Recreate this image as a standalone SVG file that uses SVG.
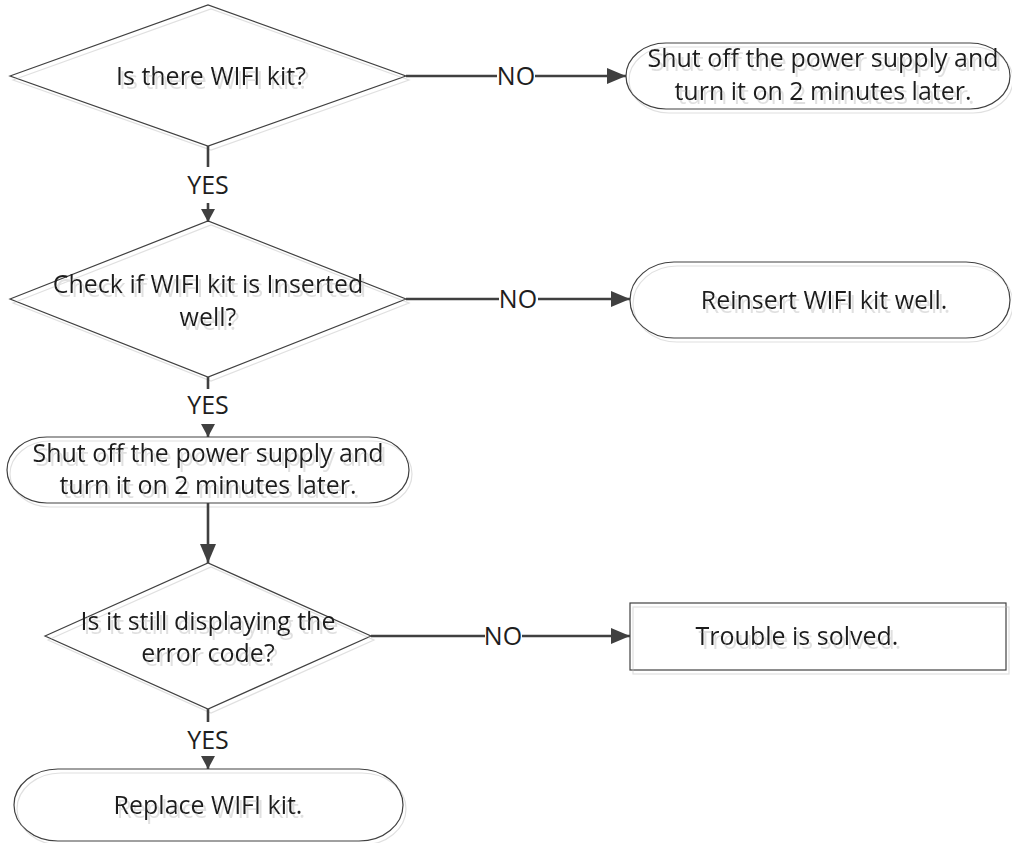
<svg xmlns="http://www.w3.org/2000/svg" width="1012" height="843" viewBox="0 0 1012 843">
  <defs>
    <filter id="ghost" x="-5%" y="-5%" width="115%" height="120%">
      <feOffset in="SourceAlpha" dx="3" dy="4" result="off"/>
      <feFlood flood-color="#e0e0e0"/>
      <feComposite in2="off" operator="in" result="sh"/>
      <feMerge>
        <feMergeNode in="sh"/>
        <feMergeNode in="SourceGraphic"/>
      </feMerge>
    </filter>
    <marker id="arrow" markerUnits="userSpaceOnUse" markerWidth="20" markerHeight="16" refX="19" refY="8" orient="auto">
      <path d="M0,0 L19,8 L0,16 Z" fill="#404040"/>
    </marker>
    <marker id="arrow-s" markerUnits="userSpaceOnUse" markerWidth="14" markerHeight="14" refX="13" refY="7" orient="auto">
      <path d="M0,0 L13,7 L0,14 Z" fill="#404040"/>
    </marker>
  </defs>
  <style>
    .shape { fill: none; stroke: #404040; stroke-width: 1.2; }
    .lbl { font-family: "Open Sans", "Noto Sans", "DejaVu Sans", sans-serif; font-size: 25px; fill: #1e1e1e; text-anchor: middle; }
    .conn { stroke: #404040; stroke-width: 2.6; fill: none; }
  </style>
  <rect width="1012" height="843" fill="#ffffff"/>

  <g id="d1" filter="url(#ghost)">
    <polygon class="shape" points="10,76 208,5 406,76 208,146"/>
    <text class="lbl" x="211" y="85">Is there WIFI kit?</text>
  </g>

  <g id="s1" filter="url(#ghost)">
    <rect class="shape" x="626" y="43" width="384" height="66" rx="40" ry="33"/>
    <text class="lbl" x="823" y="67">Shut off the power supply and</text>
    <text class="lbl" x="823" y="100">turn it on 2 minutes later.</text>
  </g>

  <g id="d2" filter="url(#ghost)">
    <polygon class="shape" points="10,299 208,221 406,299 208,377"/>
    <text class="lbl" x="208" y="293">Check if WIFI kit is Inserted</text>
    <text class="lbl" x="208" y="326">well?</text>
  </g>

  <g id="s2" filter="url(#ghost)">
    <rect class="shape" x="630" y="262" width="380" height="76" rx="44" ry="38"/>
    <text class="lbl" x="824" y="309">Reinsert WIFI kit well.</text>
  </g>

  <g id="s3" filter="url(#ghost)">
    <rect class="shape" x="7" y="437" width="402" height="66" rx="40" ry="33"/>
    <text class="lbl" x="208" y="462">Shut off the power supply and</text>
    <text class="lbl" x="208" y="494">turn it on 2 minutes later.</text>
  </g>

  <g id="d3" filter="url(#ghost)">
    <polygon class="shape" points="45,636 208,563 371,636 208,709"/>
    <text class="lbl" x="208" y="630">Is it still displaying the</text>
    <text class="lbl" x="208" y="662">error code?</text>
  </g>

  <g id="r1" filter="url(#ghost)">
    <rect class="shape" x="630" y="603" width="376" height="67"/>
    <text class="lbl" x="797" y="645">Trouble is solved.</text>
  </g>

  <g id="s4" filter="url(#ghost)">
    <rect class="shape" x="14" y="769" width="389" height="72" rx="44" ry="36"/>
    <text class="lbl" x="208" y="814">Replace WIFI kit.</text>
  </g>

  <g id="connectors">
    <line class="conn" x1="208" y1="146" x2="208" y2="167"/>
    <text class="lbl" x="208" y="194">YES</text>
    <line class="conn" x1="208" y1="203" x2="208" y2="222" marker-end="url(#arrow-s)"/>

    <line class="conn" x1="406" y1="76" x2="497" y2="76"/>
    <text class="lbl" x="516" y="85">NO</text>
    <line class="conn" x1="535" y1="76" x2="626" y2="76" marker-end="url(#arrow)"/>

    <line class="conn" x1="208" y1="377" x2="208" y2="389"/>
    <text class="lbl" x="208" y="414">YES</text>
    <line class="conn" x1="208" y1="425" x2="208" y2="437" marker-end="url(#arrow-s)"/>

    <line class="conn" x1="406" y1="299" x2="499" y2="299"/>
    <text class="lbl" x="518" y="308">NO</text>
    <line class="conn" x1="538" y1="299" x2="630" y2="299" marker-end="url(#arrow)"/>

    <line class="conn" x1="208" y1="503" x2="208" y2="563" marker-end="url(#arrow)"/>

    <line class="conn" x1="371" y1="636" x2="485" y2="636"/>
    <text class="lbl" x="503" y="645">NO</text>
    <line class="conn" x1="522" y1="636" x2="630" y2="636" marker-end="url(#arrow)"/>

    <line class="conn" x1="208" y1="709" x2="208" y2="722"/>
    <text class="lbl" x="208" y="749">YES</text>
    <line class="conn" x1="208" y1="756" x2="208" y2="769" marker-end="url(#arrow-s)"/>
  </g>
</svg>
